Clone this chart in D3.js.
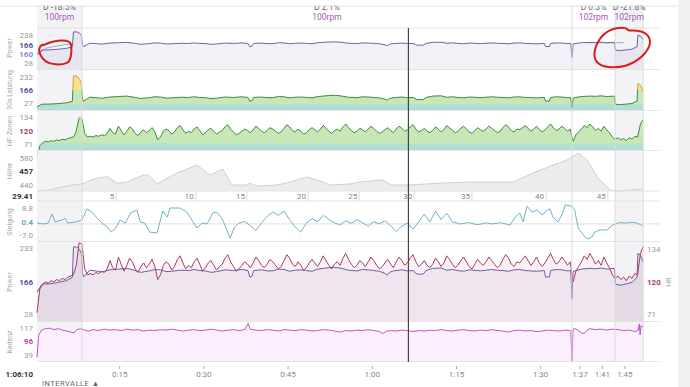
<!DOCTYPE html>
<html>
<head>
<meta charset="utf-8">
<script src="https://cdn.jsdelivr.net/npm/d3@7"></script>
<style>
  body { margin: 0; background: #fff; font-family: Roboto, "Noto Sans", sans-serif; }
  svg { display: block; }
</style>
</head>
<body>
<svg id="chart" width="690" height="387"></svg>
<script>
// ---- data (time in minutes) ----
var intervalBounds = [0, 8.0, 95.3, 103.0, 108.0];
var intervalShade = [true, false, false, true];
var intervalDelta = ["D -18.5%", "D 2.1%", "D 0.3%", "D -21.8%"];
var intervalRpm = ["100rpm", "100rpm", "102rpm", "102rpm"];

var cursorTime = 66.17;
var cursorLabel = "1:06:10";
var cursorKm = "29.41";

var timeTicks = [15, 30, 45, 60, 75, 90, 97, 101, 105];
var timeTickLabels = ["0:15", "0:30", "0:45", "1:00", "1:15", "1:30", "1:37", "1:41", "1:45"];

var kmTimes = [14.1, 28.3, 37.4, 48.3, 57.4, 67.2, 77.5, 90.7, 101.7];
var kmLabels = ["5", "10", "15", "20", "25", "30", "35", "40", "45"];

// power [min, W]
var powerData = [
  [0,108],[0.9,130],[2.3,131],[3.6,134],[5.3,140],[6.3,149],[6.5,234],[7.1,234],[7.6,226],[7.9,216],
  [8.1,160],[8.3,150],[8.8,159],[9.4,169],[10.5,167],[11.5,164],[13,170],[14.5,172],[16,174],[17.5,168],
  [18.5,163],[20,167],[21,171],[22,170],[23,165],[24,166],[25.5,169],[27,168],[28,171],[29,168],
  [30,167],[31,163],[32,165],[33.5,170],[35,168],[36.5,171],[37.6,168],[37.9,150],[38.3,152],[38.6,168],
  [40,170],[41,167],[42,167],[43,172],[44,171],[45,166],[46,169],[47,170],[48,168],[49,166],
  [50,172],[51,174],[52,176],[53,177],[54,175],[55.5,169],[57,167],[58,171],[59,170],[60,168],
  [61,166],[62,160],[62.4,155],[62.8,163],[63.5,167],[64.5,169],[65,170],[66,167],[67,168],[67.7,158],
  [68.8,158],[69.3,168],[70.5,174],[72,175],[73,169],[74,171],[75,168],[76,166],[77,170],[78,169],
  [79,167],[80,169],[81,171],[82,169],[83,168],[84,166],[85,170],[86,171],[87,168],[88,167],
  [89,166],[90.4,168],[90.6,150],[91.3,150],[91.5,168],[92.5,171],[93.5,170],[94.5,167],[95.1,168],[95.3,88],
  [95.5,165],[96,168],[97,172],[98.5,174],[99.5,173],[100.5,175],[101.5,172],[102.9,174],[103.05,130],[104,127],
  [105,131],[106,135],[106.9,149],[107.05,216],[107.5,211],[108,192]
];
var powerRefData = [[0.3,110],[1.5,140],[3,150],[4.5,158],[6,165],[6.5,168]];
var powerRefEnd = [[98,172],[101,172],[104.5,172]];

// heart rate, one value every 0.5 min
var hrValues = [
  78, 98, 102, 104, 103, 105, 104, 106, 105, 107, 106, 108, 109, 110, 118, 137, 136, 115, 110, 111,
  110, 112, 111, 113, 112, 115, 122, 116, 114, 125, 119, 113, 118, 124, 121, 115, 112, 117, 120, 116,
  119, 123, 117, 106, 110, 118, 121, 119, 114, 117, 123, 126, 120, 115, 118, 116, 121, 124, 119, 113,
  116, 120, 122, 118, 114, 117, 119, 124, 127, 121, 117, 113, 115, 118, 121, 119, 116, 120, 125, 122,
  118, 116, 119, 123, 121, 118, 115, 117, 122, 127, 124, 119, 117, 121, 118, 114, 116, 120, 123, 120,
  117, 121, 126, 122, 118, 115, 119, 121, 118, 124, 128, 123, 119, 116, 118, 122, 120, 117, 121, 125,
  122, 118, 115, 117, 120, 123, 119, 116, 121, 125, 122, 118, 120, 124, 127, 121, 117, 119, 122, 118,
  116, 119, 124, 121, 117, 120, 126, 123, 119, 116, 118, 122, 125, 121, 117, 115, 119, 123, 120, 118,
  121, 125, 122, 119, 116, 118, 123, 127, 124, 119, 117, 121, 120, 123, 126, 122, 118, 121, 125, 120,
  117, 120, 124, 128, 123, 119, 121, 125, 122, 118, 121, 104, 113, 117, 121, 126, 123, 128, 124, 119,
  122, 118, 125, 120, 116, 110, 107, 109, 106, 108, 105, 109, 107, 111, 110, 128, 134
];

// elevation [min, m]
var elevData = [
  [0,440],[2.3,444],[4.6,455],[6.4,462],[8.0,466],[10.7,488],[12.5,492],[14.3,469],[16.0,473],[18.9,499],
  [19.8,499],[21.4,466],[24.9,506],[28.5,536],[30.8,499],[33.1,521],[34.7,462],[37.4,462],[37.9,469],[39.2,458],
  [42.8,462],[45.1,473],[48.1,492],[51.0,473],[52.2,462],[55.8,466],[57.5,473],[61.6,481],[63.2,462],[65.9,462],
  [69.5,466],[71.8,469],[77.7,473],[84.8,473],[89.6,517],[94.4,554],[96.4,580],[98.0,554],[99.8,492],[102.1,444],
  [103.3,440],[107.8,447]
];

// gradient [min, %]
var gradData = [
  [0,0.4],[1.1,0],[2.0,0.4],[2.7,4.6],[3.2,0.9],[4.5,1.8],[5.0,2.7],[5.5,0.4],[6.8,0.9],[8.0,1.8],
  [8.9,7.0],[9.8,5.5],[10.7,2.7],[11.6,0.4],[12.5,-1.4],[13.2,-3.8],[13.9,-2.3],[14.8,1.8],[15.7,0.4],[16.7,5.1],
  [17.8,6.5],[18.4,0.9],[19.2,0.4],[20.1,-3.8],[21.4,-4.2],[22.4,6.0],[23.2,3.2],[23.7,7.4],[25.5,7.4],[26.7,5.5],
  [27.6,1.8],[28.5,-1.9],[29.4,0.4],[30.3,0],[31.4,5.5],[32.2,5.1],[33.1,1.8],[34.4,-6.5],[35.2,-1.5],[36,0.4],
  [37,1.2],[38,-0.8],[39,-3.0],[40,0.5],[41,3.5],[42,5.5],[43,4.0],[44,6.0],[45,2.0],[46,-1.5],
  [47,-3.8],[48,0.5],[49,2.5],[50,1.0],[51,4.0],[52,2.0],[53,0.5],[54,-0.5],[55,1.5],[56,0.2],
  [57,2.0],[58,0.5],[59,-1.0],[60,1.0],[61,0.0],[62,1.5],[63,-0.8],[64,-3.5],[65,-1.0],[66,0.4],
  [67,-2.5],[68,1.0],[69,4.5],[70,1.0],[71,6.0],[72,2.0],[73,5.0],[74,1.0],[75.4,0],[77,0.6],
  [78.5,-0.4],[80,0.5],[81.2,0],[82.5,0.6],[84.3,-0.5],[85.2,3.2],[86.0,5.1],[86.6,0.9],[87.3,8.3],[88.2,5.5],
  [89.1,6.5],[90.0,4.1],[90.9,6.5],[91.4,7.0],[91.9,3.2],[92.8,0.9],[93.5,4.1],[94.1,8.8],[95.3,8.3],[95.8,6.5],
  [96.4,-1.9],[97.1,-4.2],[97.6,-6.0],[98.2,-7.0],[98.9,-6.0],[99.4,-3.7],[100.3,-2.8],[101.5,-2.8],[102.6,-0.5],[103.8,0.6],
  [105.1,0.4],[106,0.8],[106.9,0.4],[108,-1.0]
];

// cadence [min, rpm]
var cadData = [
  [0,46],[0.3,92],[0.8,103],[1.5,106],[2.3,107],[3,104],[3.8,106],[4.5,103],[5.3,101],[6,99],
  [6.6,97],[7.1,104],[7.8,106],[8.5,103],[9.2,101],[10,104],[11,102],[12,105],[13,103],[14,104],
  [15,102],[16,105],[17,103],[18,104],[19,101],[20,103],[21,102],[22,104],[23,103],[24,105],
  [25,103],[26,101],[27,103],[28,104],[29,102],[30,103],[31,105],[32,103],[33,101],[34,103],
  [35,104],[36,102],[37,104],[37.6,117],[38,105],[39,103],[40,102],[41,104],[42,103],[43,101],
  [44,104],[45,103],[46,102],[47,104],[48,103],[49,101],[50,102],[51,104],[52,103],[53,101],
  [54,99],[55,102],[56,101],[57,103],[58,102],[59,104],[60,102],[61,100],[61.6,96],[62.3,101],
  [63,102],[64,101],[65,103],[66,102],[67,100],[68,102],[69,101],[70,103],[71,102],[72,104],
  [73,102],[74,101],[75,103],[76,104],[77,102],[78,101],[79,103],[80,102],[81,104],[82,102],
  [83,101],[84,99],[85,102],[86,103],[87,101],[88,102],[89,100],[90,101],[91,103],[92,102],
  [93,101],[94,103],[95.1,102],[95.3,38],[95.5,105],[96,106],[97,97],[97.5,96],[98,103],[98.5,106],
  [99.5,104],[100.5,105],[101.5,103],[102.5,105],[103.5,104],[104.5,102],[105.5,103],[106.5,100],[107.1,102],[107.3,116],
  [107.45,93],[107.6,112],[108,110]
];

// zone limits
var power30Zones = [130, 196];
var hrZones = [101, 135];

// hand-drawn red marks, in [min, W] of the top power panel
var markLeft = [[0.53,147],[2.67,182],[5.52,188],[6.24,165],[6.06,84],[5.52,50],[3.21,44],[1.43,61],[0.53,102],[0.18,142],[1.25,170]];
var markRight = [[105.3,256],[103.3,262],[100.8,228],[99.1,130],[99.4,56],[101.5,27],[105.1,33],[108,90],[109.6,170],[108.7,228],[106.9,245],[105.1,239]];

// ---- setup ----
var hrData = hrValues.map(function (v, i) { return [i * 0.5, v]; });

var svg = d3.select("#chart");
var defs = svg.append("defs");
var x = d3.scaleLinear().domain([0, 108]).range([37, 643.2]);
var ruleRight = 660;
var font = "Roboto, 'Noto Sans', sans-serif";

var yPowTop = d3.scaleLinear().domain([27, 245]).range([68, 30]);
var yP30 = d3.scalePow().exponent(3).domain([27, 245]).range([110, 71]);
var yHF = d3.scaleLinear().domain([92, 146]).range([150, 111]);
var yElev = d3.scaleLinear().domain([440, 580]).range([191, 153]);
var yGrad = d3.scaleLinear().domain([-7, 8.8]).range([239, 205]);
var yPowBot = d3.scaleLinear().domain([27, 245]).range([321, 243]);
var yHRBot = d3.scaleLinear().domain([71, 136]).range([321, 244]);
var yCad = d3.scaleLinear().domain([36, 120]).range([362, 322]);

function lineGen(y) {
  return d3.line().x(function (d) { return x(d[0]); }).y(function (d) { return y(d[1]); });
}
function areaGen(y, base) {
  return d3.area().x(function (d) { return x(d[0]); }).y0(base).y1(function (d) { return y(d[1]); });
}
function clipRect(id, y0, y1) {
  defs.append("clipPath").attr("id", id)
    .append("rect").attr("x", 0).attr("width", 690).attr("y", y0).attr("height", y1 - y0);
}

// right scroll strip
svg.append("rect").attr("x", 678).attr("y", 0).attr("width", 12).attr("height", 387).attr("fill", "#f1f1f3");

// interval shading
svg.append("g").selectAll("rect")
  .data(d3.range(intervalDelta.length).filter(function (i) { return intervalShade[i]; }))
  .enter().append("rect")
  .attr("x", function (i) { return x(intervalBounds[i]); })
  .attr("width", function (i) { return x(intervalBounds[i + 1]) - x(intervalBounds[i]); })
  .attr("y", 6).attr("height", 356)
  .attr("fill", "#f3f3f5");

// ---- top power ----
svg.append("path").datum(powerData).attr("d", areaGen(yPowTop, 69)).attr("fill", "rgba(110,100,180,0.09)");
svg.append("path").datum(powerRefData).attr("d", lineGen(yPowTop)).attr("fill", "none").attr("stroke", "#9aa6dc").attr("stroke-width", 1);
svg.append("path").datum(powerRefEnd).attr("d", lineGen(yPowTop)).attr("fill", "none").attr("stroke", "#9aa6dc").attr("stroke-width", 1);
svg.append("path").datum(powerData).attr("d", lineGen(yPowTop)).attr("fill", "none").attr("stroke", "#6c62b0").attr("stroke-width", 1);

// ---- zone panels ----
function zonePanel(id, data, y, base, top, zones) {
  clipRect(id + "-low", y(zones[0]), base);
  clipRect(id + "-high", top - 5, y(zones[1]));
  clipRect(id + "-mid", y(zones[1]), base);
  var a = areaGen(y, base), l = lineGen(y);
  svg.append("path").datum(data).attr("d", a).attr("fill", "#c7e7b6");
  svg.append("path").datum(data).attr("d", a).attr("fill", "#b2ded6").attr("clip-path", "url(#" + id + "-low)");
  svg.append("path").datum(data).attr("d", a).attr("fill", "#f6e38e").attr("clip-path", "url(#" + id + "-high)");
  svg.append("path").datum(data).attr("d", l).attr("fill", "none").attr("stroke", "#3c8c3a").attr("stroke-width", 1)
    .attr("clip-path", "url(#" + id + "-mid)");
  svg.append("path").datum(data).attr("d", l).attr("fill", "none").attr("stroke", "#d99a45").attr("stroke-width", 1)
    .attr("clip-path", "url(#" + id + "-high)");
}
zonePanel("p30", powerData, yP30, 110, 71, power30Zones);
zonePanel("hf", hrData, yHF, 150, 111, hrZones);

// ---- elevation ----
svg.append("path").datum(elevData).attr("d", areaGen(yElev, 191)).attr("fill", "#ececec");
svg.append("path").datum(elevData).attr("d", lineGen(yElev)).attr("fill", "none").attr("stroke", "#d0d0d0").attr("stroke-width", 1);

// ---- gradient ----
svg.append("line").attr("x1", 37).attr("x2", ruleRight).attr("y1", yGrad(0)).attr("y2", yGrad(0)).attr("stroke", "#dedede");
svg.append("path").datum(gradData).attr("d", lineGen(yGrad)).attr("fill", "none").attr("stroke", "#74b2c8").attr("stroke-width", 1);

// ---- power + HR ----
svg.append("path").datum(hrData).attr("d", areaGen(yHRBot, 321)).attr("fill", "rgba(170,60,110,0.07)");
svg.append("path").datum(powerData).attr("d", areaGen(yPowBot, 321)).attr("fill", "rgba(110,90,160,0.08)");
svg.append("path").datum(powerData).attr("d", lineGen(yPowBot)).attr("fill", "none").attr("stroke", "#6e5ea6").attr("stroke-width", 1);
svg.append("path").datum(hrData).attr("d", lineGen(yHRBot)).attr("fill", "none").attr("stroke", "#a83c62").attr("stroke-width", 1);

// ---- cadence ----
svg.append("path").datum(cadData).attr("d", areaGen(yCad, 361)).attr("fill", "#fbeffb");
svg.append("path").datum(cadData).attr("d", lineGen(yCad)).attr("fill", "none").attr("stroke", "#c452c8").attr("stroke-width", 1);

// ---- rules ----
svg.append("g").selectAll("line")
  .data([28, 69.5, 110.5, 150.5, 191, 201, 241.5, 321.5, 361.5])
  .enter().append("line")
  .attr("x1", 37).attr("x2", ruleRight)
  .attr("y1", function (d) { return d; }).attr("y2", function (d) { return d; })
  .attr("stroke", "#e4e4e4");

svg.append("g").selectAll("line")
  .data(intervalBounds.slice(1))
  .enter().append("line")
  .attr("x1", function (d) { return x(d); }).attr("x2", function (d) { return x(d); })
  .attr("y1", 6).attr("y2", 362)
  .attr("stroke", "#dcdcdc");

// distance ticks
var kmG = svg.append("g");
kmG.selectAll("line").data(kmTimes).enter().append("line")
  .attr("x1", function (d) { return x(d); }).attr("x2", function (d) { return x(d); })
  .attr("y1", 191).attr("y2", 201).attr("stroke", "#dcdcdc");
kmG.selectAll("text").data(kmTimes).enter().append("text")
  .attr("x", function (d) { return x(d) - 2; }).attr("y", 199)
  .attr("text-anchor", "end").attr("font-size", 8).attr("fill", "#888").attr("font-family", font)
  .text(function (d, i) { return kmLabels[i]; });

// cursor
svg.append("line").attr("x1", x(cursorTime)).attr("x2", x(cursorTime)).attr("y1", 28).attr("y2", 362)
  .attr("stroke", "#444").attr("stroke-width", 1.2);

// time axis
var tG = svg.append("g");
tG.selectAll("line").data(timeTicks).enter().append("line")
  .attr("x1", function (d) { return x(d) - 1.5; }).attr("x2", function (d) { return x(d) - 1.5; })
  .attr("y1", 366).attr("y2", 369).attr("stroke", "#aaa");
tG.selectAll("text").data(timeTicks).enter().append("text")
  .attr("x", function (d) { return x(d) - 1.5; }).attr("y", 377)
  .attr("text-anchor", "middle").attr("font-size", 8).attr("fill", "#888").attr("font-family", font)
  .text(function (d, i) { return timeTickLabels[i]; });

function txt(px, py, s, opt) {
  opt = opt || {};
  var t = svg.append("text").attr("x", px).attr("y", py)
    .attr("font-family", font).attr("font-size", opt.size || 8)
    .attr("fill", opt.color || "#999").attr("text-anchor", opt.anchor || "end")
    .attr("font-weight", opt.weight || "normal").text(s);
  if (opt.rotate) t.attr("transform", "rotate(-90," + px + "," + py + ")");
  return t;
}

txt(33, 377, cursorLabel, { color: "#333", weight: "bold" });
txt(33, 199, cursorKm, { color: "#333", weight: "bold" });
txt(42, 386, "INTERVALLE \u25B2", { color: "#666", anchor: "start", size: 7.5 }).attr("letter-spacing", 0.5);

// panel titles
var titles = [["Power", 48], ["30s Leistung", 90], ["HF-Zonen", 131], ["H\u00f6he", 171], ["Steigung", 222], ["Power", 282], ["Kadenz", 342]];
titles.forEach(function (t) { txt(12, t[1], t[0], { color: "#aaa", anchor: "middle", rotate: true, size: 7 }); });
txt(671, 282, "HR", { color: "#aaa", anchor: "middle", rotate: true, size: 7 });

// value labels
var valueLabels = [
  ["238", 38, "#999"], ["166", 48, "#5b4c9c"], ["160", 57, "#7e8ed0"], ["28", 66, "#999"],
  ["232", 80, "#999"], ["166", 93, "#5b4c9c"], ["27", 106, "#999"],
  ["134", 120, "#999"], ["120", 134, "#a33c5e"], ["71", 147, "#999"],
  ["580", 161, "#999"], ["457", 174, "#333"], ["440", 188, "#999"],
  ["8.8", 211, "#999"], ["0.4", 225, "#5ea6bd"], ["-7.0", 238, "#999"],
  ["233", 251, "#999"], ["166", 285, "#5b4c9c"], ["28", 317, "#999"],
  ["117", 331, "#999"], ["96", 344, "#b348b8"], ["39", 358, "#999"]
];
valueLabels.forEach(function (v) {
  txt(33, v[1], v[0], { color: v[2], weight: v[2] === "#999" ? "normal" : "bold" });
});
txt(647, 252, "134", { anchor: "start" });
txt(647, 285, "120", { anchor: "start", color: "#a33c5e", weight: "bold" });
txt(647, 317, "71", { anchor: "start" });

// interval header
d3.range(intervalDelta.length).forEach(function (i) {
  var cx = (x(intervalBounds[i]) + x(intervalBounds[i + 1])) / 2;
  txt(cx, 10, intervalDelta[i], { anchor: "middle", color: "#666", size: 8.5 });
  txt(cx, 20, intervalRpm[i], { anchor: "middle", color: "#a855b5", size: 8.5 });
});
svg.append("rect").attr("x", 0).attr("y", 0).attr("width", 678).attr("height", 5.5).attr("fill", "#fff");
svg.append("line").attr("x1", 0).attr("x2", 678).attr("y1", 6).attr("y2", 6).attr("stroke", "#e2e2e2");

// red hand marks
var markLine = d3.line().curve(d3.curveBasisClosed)
  .x(function (d) { return x(d[0]); }).y(function (d) { return yPowTop(d[1]); });
[markLeft, markRight].forEach(function (m) {
  svg.append("path").datum(m).attr("d", markLine).attr("fill", "none")
    .attr("stroke", "#d41f1f").attr("stroke-width", 2).attr("stroke-linecap", "round");
});
</script>
</body>
</html>
